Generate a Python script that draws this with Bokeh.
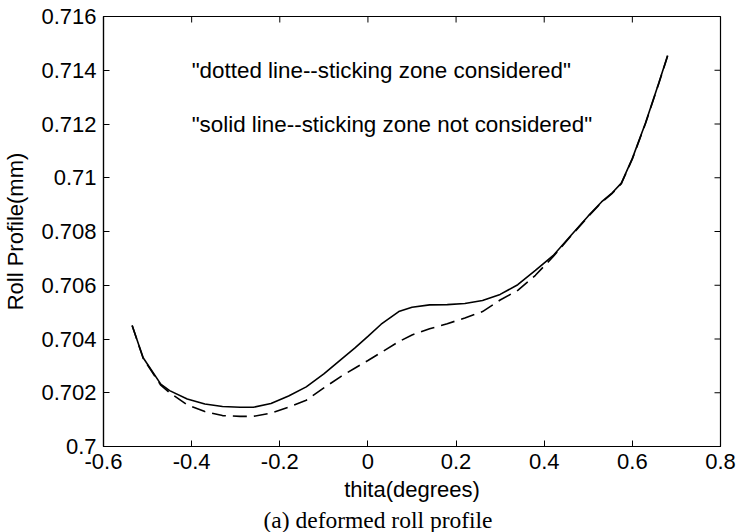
from bokeh.plotting import figure
from bokeh.models import Range1d, FixedTicker, Label, Title, CustomJSTickFormatter
from bokeh.embed import file_html
from bokeh.resources import INLINE

# ---- data ----
theta = [-0.535, -0.51, -0.47, -0.45, -0.41, -0.37, -0.33, -0.29, -0.26, -0.22,
         -0.18, -0.14, -0.10, -0.06, -0.03, 0.0, 0.03, 0.07, 0.10, 0.14,
         0.18, 0.22, 0.26, 0.30, 0.34, 0.38, 0.42, 0.46, 0.50, 0.53,
         0.555, 0.575, 0.60, 0.63, 0.66, 0.68]

# solid line: sticking zone not considered
profile_not_considered = [0.70450, 0.70330, 0.70232, 0.70208, 0.70177, 0.70158, 0.70149, 0.70146, 0.70146, 0.70160,
                          0.70188, 0.70222, 0.70270, 0.70325, 0.70366, 0.70410, 0.70455, 0.70502, 0.70518, 0.70527,
                          0.70528, 0.70532, 0.70543, 0.70566, 0.70602, 0.70655, 0.70710, 0.70784, 0.70858, 0.70910,
                          0.70945, 0.70980, 0.71072, 0.71205, 0.71353, 0.71455]

# dashed line: sticking zone considered
profile_considered = [0.70450, 0.70328, 0.70228, 0.70200, 0.70155, 0.70130, 0.70115, 0.70112, 0.70112, 0.70124,
                      0.70146, 0.70172, 0.70218, 0.70262, 0.70291, 0.70320, 0.70350, 0.70390, 0.70415, 0.70438,
                      0.70457, 0.70478, 0.70502, 0.70545, 0.70581, 0.70637, 0.70706, 0.70782, 0.70856, 0.70908,
                      0.70943, 0.70978, 0.71070, 0.71203, 0.71351, 0.71453]

x_ticks = [-0.6, -0.4, -0.2, 0.0, 0.2, 0.4, 0.6, 0.8]
y_ticks = [0.700, 0.702, 0.704, 0.706, 0.708, 0.710, 0.712, 0.714, 0.716]

note_considered = '"dotted line--sticking zone considered"'
note_not_considered = '"solid line--sticking zone not considered"'
x_title = "thita(degrees)"
y_title = "Roll Profile(mm)"
caption = "(a) deformed roll profile"

SANS = "Liberation Sans"
SERIF = "Liberation Serif"
FS = "22px"

x_lo, x_hi = x_ticks[0], x_ticks[-1]
y_lo, y_hi = y_ticks[0], y_ticks[-1]

p = figure(width=737, height=532, output_backend="svg", toolbar_location=None,
           x_range=Range1d(x_lo, x_hi), y_range=Range1d(y_lo, y_hi),
           min_border_left=103, min_border_right=17, min_border_top=16,
           min_border_bottom=86, background_fill_color="white",
           border_fill_color="white")

p.grid.visible = False
p.outline_line_color = "black"
p.outline_line_width = 1.2

fmt = CustomJSTickFormatter(code="return String(Number(tick.toFixed(3)));")

for ax, ticks in ((p.xaxis[0], x_ticks), (p.yaxis[0], y_ticks)):
    ax.ticker = FixedTicker(ticks=ticks)
    ax.formatter = fmt
    ax.major_tick_in = 6
    ax.major_tick_out = 0
    ax.minor_tick_line_color = None
    ax.major_tick_line_color = "black"
    ax.axis_line_color = "black"
    ax.axis_line_width = 1.2
    ax.major_label_text_font = SANS
    ax.major_label_text_font_size = FS
    ax.major_label_text_color = "black"
    ax.axis_label_text_font = SANS
    ax.axis_label_text_font_size = FS
    ax.axis_label_text_font_style = "normal"
    ax.axis_label_text_color = "black"

p.xaxis[0].axis_label = x_title
p.xaxis[0].major_label_standoff = 7
p.xaxis[0].axis_label_standoff = 5
p.yaxis[0].axis_label = y_title
p.yaxis[0].major_label_standoff = 7
p.yaxis[0].axis_label_standoff = 10

# mirrored tick marks on the top and right edges (box style)
p.ray(x=x_ticks, y=[y_hi] * len(x_ticks), length=6, length_units="screen",
      angle=-90, angle_units="deg", line_color="black", line_width=1)
p.ray(x=[x_hi] * len(y_ticks), y=y_ticks, length=6, length_units="screen",
      angle=180, angle_units="deg", line_color="black", line_width=1)

p.line(theta, profile_not_considered, line_color="black", line_width=1.6)
p.line(theta, profile_considered, line_color="black", line_width=1.6, line_dash="14 7")

p.add_layout(Label(x=-0.4, y=0.714, text=note_considered, text_font=SANS,
                   text_font_size="22.4px", text_baseline="middle", text_align="left",
                   text_color="black"))
p.add_layout(Label(x=-0.4, y=0.712, text=note_not_considered, text_font=SANS,
                   text_font_size="22.4px", text_baseline="middle", text_align="left",
                   text_color="black"))

# caption under the axis title
p.add_layout(Title(text=caption, align="left", offset=160, text_font=SERIF,
                   text_font_size="23.5px", text_font_style="normal",
                   text_color="black", standoff=0), "below")

open("out.html", "w").write(file_html(p, INLINE))
